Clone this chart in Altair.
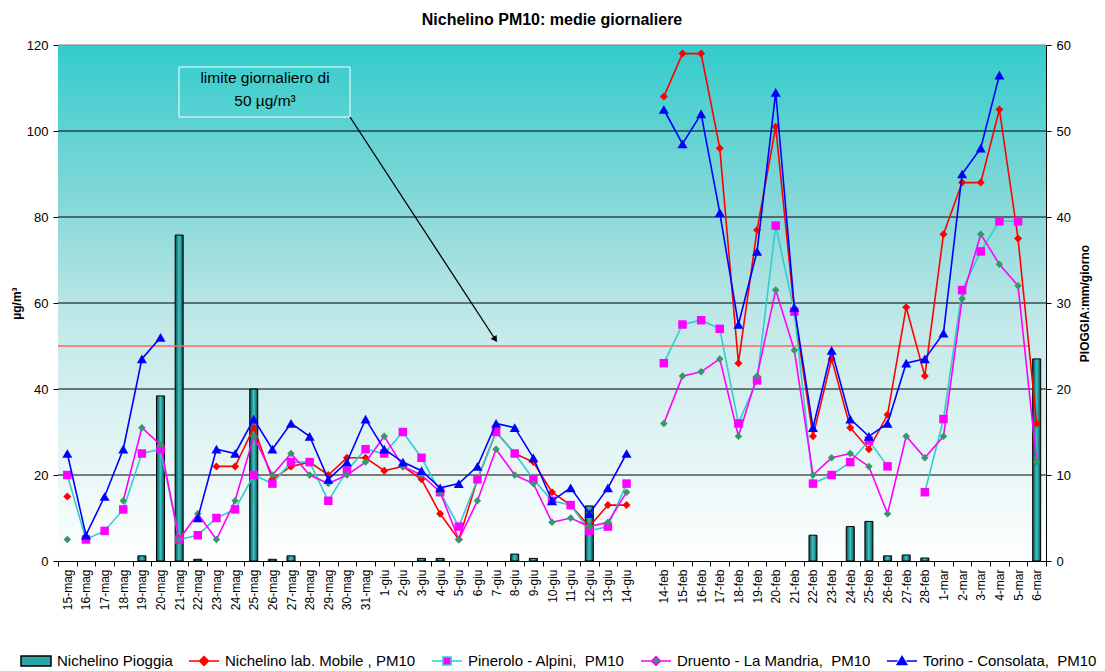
import altair as alt
import pandas as pd

categories = [
    "15-mag", "16-mag", "17-mag", "18-mag", "19-mag", "20-mag", "21-mag", "22-mag",
    "23-mag", "24-mag", "25-mag", "26-mag", "27-mag", "28-mag", "29-mag", "30-mag", "31-mag",
    "1-giu", "2-giu", "3-giu", "4-giu", "5-giu", "6-giu", "7-giu", "8-giu", "9-giu",
    "10-giu", "11-giu", "12-giu", "13-giu", "14-giu",
    " ",
    "14-feb", "15-feb", "16-feb", "17-feb", "18-feb", "19-feb", "20-feb", "21-feb",
    "22-feb", "23-feb", "24-feb", "25-feb", "26-feb", "27-feb", "28-feb",
    "1-mar", "2-mar", "3-mar", "4-mar", "5-mar", "6-mar",
]

N = None
nichelino = [15, N, N, N, N, N, N, N, 22, 22, 31, 19, 22, 23, 20, 24, 24,
             21, 22, 19, 11, 5, 19, 30, 25, 23, 16, 13, 8, 13, 13,
             N,
             108, 118, 118, 96, 46, 77, 101, 58, 29, 47, 31, 26, 34, 59, 43,
             76, 88, 88, 105, 75, 32]
pinerolo = [20, 5, 7, 12, 25, 26, 5, 6, 10, 12, 20, 18, 23, 23, 14, 21, 26,
            25, 30, 24, 16, 8, 19, 30, 25, 19, 14, 13, 7, 8, 18,
            N,
            46, 55, 56, 54, 32, 42, 78, 58, 18, 20, 23, 28, 22, N, 16,
            33, 63, 72, 79, 79, N]
druento = [5, N, N, 14, 31, 27, 5, 11, 5, 14, 29, 20, 25, 20, 18, 20, 23,
           29, 22, 20, 16, 5, 14, 26, 20, 18, 9, 10, 8, 9, 16,
           N,
           32, 43, 44, 47, 29, 43, 63, 49, 20, 24, 25, 22, 11, 29, 24,
           29, 61, 76, 69, 64, 23]
torino = [25, 6, 15, 26, 47, 52, N, 10, 26, 25, 33, 26, 32, 29, 19, 23, 33,
          26, 23, 21, 17, 18, 22, 32, 31, 24, 14, 17, 11, 17, 25,
          N,
          105, 97, 104, 81, 55, 72, 109, 59, 31, 49, 33, 29, 32, 46, 47,
          53, 90, 96, 113, N, N]
pioggia = [N, N, N, N, 0.6, 19.2, 37.9, 0.2, N, N, 20, 0.2, 0.6, N, N, N, N,
           N, N, 0.3, 0.3, N, N, N, 0.8, 0.3, N, N, 6.4, N, N,
           N,
           N, N, N, N, N, N, N, N, 3.0, N, 4.0, 4.6, 0.6, 0.7, 0.35,
           N, N, N, N, N, 23.5]

rain_name = "Nichelino Pioggia"
series_names = ["Nichelino lab. Mobile , PM10", "Pinerolo - Alpini,\u00a0 PM10",
                "Druento - La Mandria,\u00a0 PM10", "Torino - Consolata,\u00a0 PM10"]
series_values = [nichelino, pinerolo, druento, torino]
limit_value = 50
left_ticks = [0, 20, 40, 60, 80, 100, 120]
grid_values = [20, 40, 60, 80, 100]
top_value = [120]
right_ticks = [0, 10, 20, 30, 40, 50, 60]

# ---- styles ----
line_colors = ["#FF0000", "#33CCCC", "#FF00FF", "#0000FF"]
point_colors = ["#FF0000", "#FF00FF", "#339966", "#0000FF"]
point_shapes = ["diamond", "square", "diamond", "triangle-up"]
point_sizes = [64, 72, 56, 100]

W, H = 988, 516
FONT = "Liberation Sans"

rows = []
for name, vals in zip(series_names, series_values):
    seg = 0
    for c, v in zip(categories, vals):
        if v is None:
            seg += 1
            continue
        rows.append({"cat": c, "v": v, "series": name, "seg": seg})
pm = pd.DataFrame(rows)
rain = pd.DataFrame([{"cat": c, "rain": r} for c, r in zip(categories, pioggia) if r is not None])

x_enc = alt.X("cat:N",
              scale=alt.Scale(domain=categories, paddingInner=0, paddingOuter=0),
              axis=alt.Axis(title=None, labelAngle=270, labelFontSize=12, tickBand="extent",
                            tickSize=5, grid=False, labelPadding=3, domainColor="black",
                            tickColor="black", labelColor="black"))
y_left = alt.Y("v:Q", scale=alt.Scale(domain=[0, 120]),
               axis=alt.Axis(values=left_ticks, title="µg/m³", titleFontSize=12,
                             titleFontWeight="bold", labelFontSize=13, grid=False,
                             tickSize=5, labelPadding=5, titlePadding=3,
                             domainColor="#404040", tickColor="black", labelColor="black"))
y_back = alt.Y("v:Q", scale=alt.Scale(domain=[0, 120]), axis=None)

bar_grad = alt.LinearGradient(gradient="linear", x1=0, x2=1, y1=0, y2=0,
                              stops=[alt.GradientStop(offset=0, color="#124848"),
                                     alt.GradientStop(offset=0.5, color="#36C8C8"),
                                     alt.GradientStop(offset=1, color="#124848")])
bg_grad = alt.LinearGradient(gradient="linear", x1=0, x2=0, y1=0, y2=1,
                             stops=[alt.GradientStop(offset=0, color="#33CCCC"),
                                    alt.GradientStop(offset=0.33, color="#8CD9D9"),
                                    alt.GradientStop(offset=0.55, color="#C4E9E9"),
                                    alt.GradientStop(offset=1, color="#FFFFFF")])

one = pd.DataFrame({"a": [0]})

# ---- background + grid (behind bars) ----
bg = alt.Chart(one).mark_rect(fill=bg_grad).encode(
    x=alt.value(0), x2=alt.value(W), y=alt.value(0), y2=alt.value(H))
grid = alt.Chart(pd.DataFrame({"v": grid_values})).mark_rule(color="black", strokeWidth=1).encode(
    y=y_back, x=alt.value(0), x2=alt.value(W))
top = alt.Chart(pd.DataFrame({"v": top_value})).mark_rule(color="#808080", strokeWidth=1).encode(
    y=y_back, x=alt.value(0), x2=alt.value(W))
back = alt.layer(bg, grid, top)

bars = alt.Chart(rain).mark_bar(width=8, fill=bar_grad, stroke="black", strokeWidth=1).encode(
    x=x_enc,
    y=alt.Y("rain:Q", scale=alt.Scale(domain=[0, 60]),
            axis=alt.Axis(orient="right", values=right_ticks, title="PIOGGIA:mm/giorno",
                          titleAngle=270, titleBaseline="top", titleFontSize=12,
                          titleFontWeight="bold", labelFontSize=13, grid=False, tickSize=5,
                          labelPadding=5, titlePadding=9, domainColor="black",
                          tickColor="black", labelColor="black")),
)

limit = alt.Chart(pd.DataFrame({"v": [limit_value]})).mark_rule(
    color="#FF6666", strokeWidth=1.5).encode(y=y_left, x=alt.value(0), x2=alt.value(972))

series_layers = []
for name, lc, pc, sh, sz in zip(series_names, line_colors, point_colors, point_shapes, point_sizes):
    base = alt.Chart(pm).transform_filter(alt.datum.series == name)
    series_layers.append(base.mark_line(color=lc, strokeWidth=1.6).encode(
        x=x_enc, y=y_left, detail="seg:N"))
    series_layers.append(base.mark_point(shape=sh, filled=True, size=sz, color=pc, opacity=1).encode(
        x=x_enc, y=y_left))

box = alt.Chart(one).mark_rect(fillOpacity=0, stroke="white", strokeWidth=1).encode(
    x=alt.value(121), x2=alt.value(292), y=alt.value(22), y2=alt.value(72))
txt1 = alt.Chart(one).mark_text(fontSize=15.5, align="center", baseline="middle", color="black").encode(
    x=alt.value(207), y=alt.value(33), text=alt.value("limite giornaliero di"))
txt2 = alt.Chart(one).mark_text(fontSize=15.5, align="center", baseline="middle", color="black").encode(
    x=alt.value(207), y=alt.value(56), text=alt.value("50 µg/m³"))
arrow = alt.Chart(one).mark_rule(color="black", strokeWidth=1.3).encode(
    x=alt.value(292), y=alt.value(72), x2=alt.value(437), y2=alt.value(294))
head = alt.Chart(one).mark_point(shape="triangle-up", angle=147, filled=True, size=50,
                                 color="black", opacity=1).encode(
    x=alt.value(437.3), y=alt.value(294.4))

# ---- legend (built from fill / stroke / shape scales sharing one domain) ----
leg_domain = [rain_name] + series_names
leg_fill = ["#2AA5A5", "#FF0000", "#FF00FF", "#339966", "#0000FF"]
leg_stroke = ["#000000", "#FF0000", "#33CCCC", "#FF00FF", "#0000FF"]
leg_shapes = [
    "M-1,-0.33H1V0.33H-1Z",
    "M-1,0H-0.3M0.3,0H1M0,-0.3L0.3,0L0,0.3L-0.3,0Z",
    "M-1,0H-0.27M0.27,0H1M-0.27,-0.27H0.27V0.27H-0.27Z",
    "M-1,0H-0.3M0.3,0H1M0,-0.3L0.3,0L0,0.3L-0.3,0Z",
    "M-1,0H-0.3M0.3,0H1M0,-0.3L0.32,0.24H-0.32Z",
]


def leg():
    return alt.Legend(orient="none", legendX=-38, legendY=600, direction="horizontal",
                      columns=5, title=None, labelFontSize=15, labelFont=FONT,
                      labelLimit=400, symbolSize=900, symbolStrokeWidth=1.5,
                      columnPadding=13, labelOffset=5, labelColor="black", symbolOpacity=1)


dummy = alt.Chart(pd.DataFrame({"series": leg_domain})).transform_filter("false").mark_point(
    filled=True, opacity=1).encode(
    fill=alt.Fill("series:N", scale=alt.Scale(domain=leg_domain, range=leg_fill), legend=leg()),
    stroke=alt.Stroke("series:N", scale=alt.Scale(domain=leg_domain, range=leg_stroke), legend=leg()),
    shape=alt.Shape("series:N", scale=alt.Scale(domain=leg_domain, range=leg_shapes), legend=leg()),
)

front = alt.layer(limit, *series_layers, box, txt1, txt2, arrow, head, dummy)

chart = alt.layer(back, bars, front).resolve_scale(y="independent").properties(
    width=W, height=H,
    padding={"left": 2, "top": 4, "right": 0, "bottom": 0},
    title=alt.TitleParams("Nichelino  PM10: medie giornaliere", fontSize=16, fontWeight="bold",
                          anchor="middle", offset=11, color="black"),
).configure(font=FONT).configure_view(stroke=None)

chart.save("out.html", embed_options={"renderer": "svg", "actions": False})
